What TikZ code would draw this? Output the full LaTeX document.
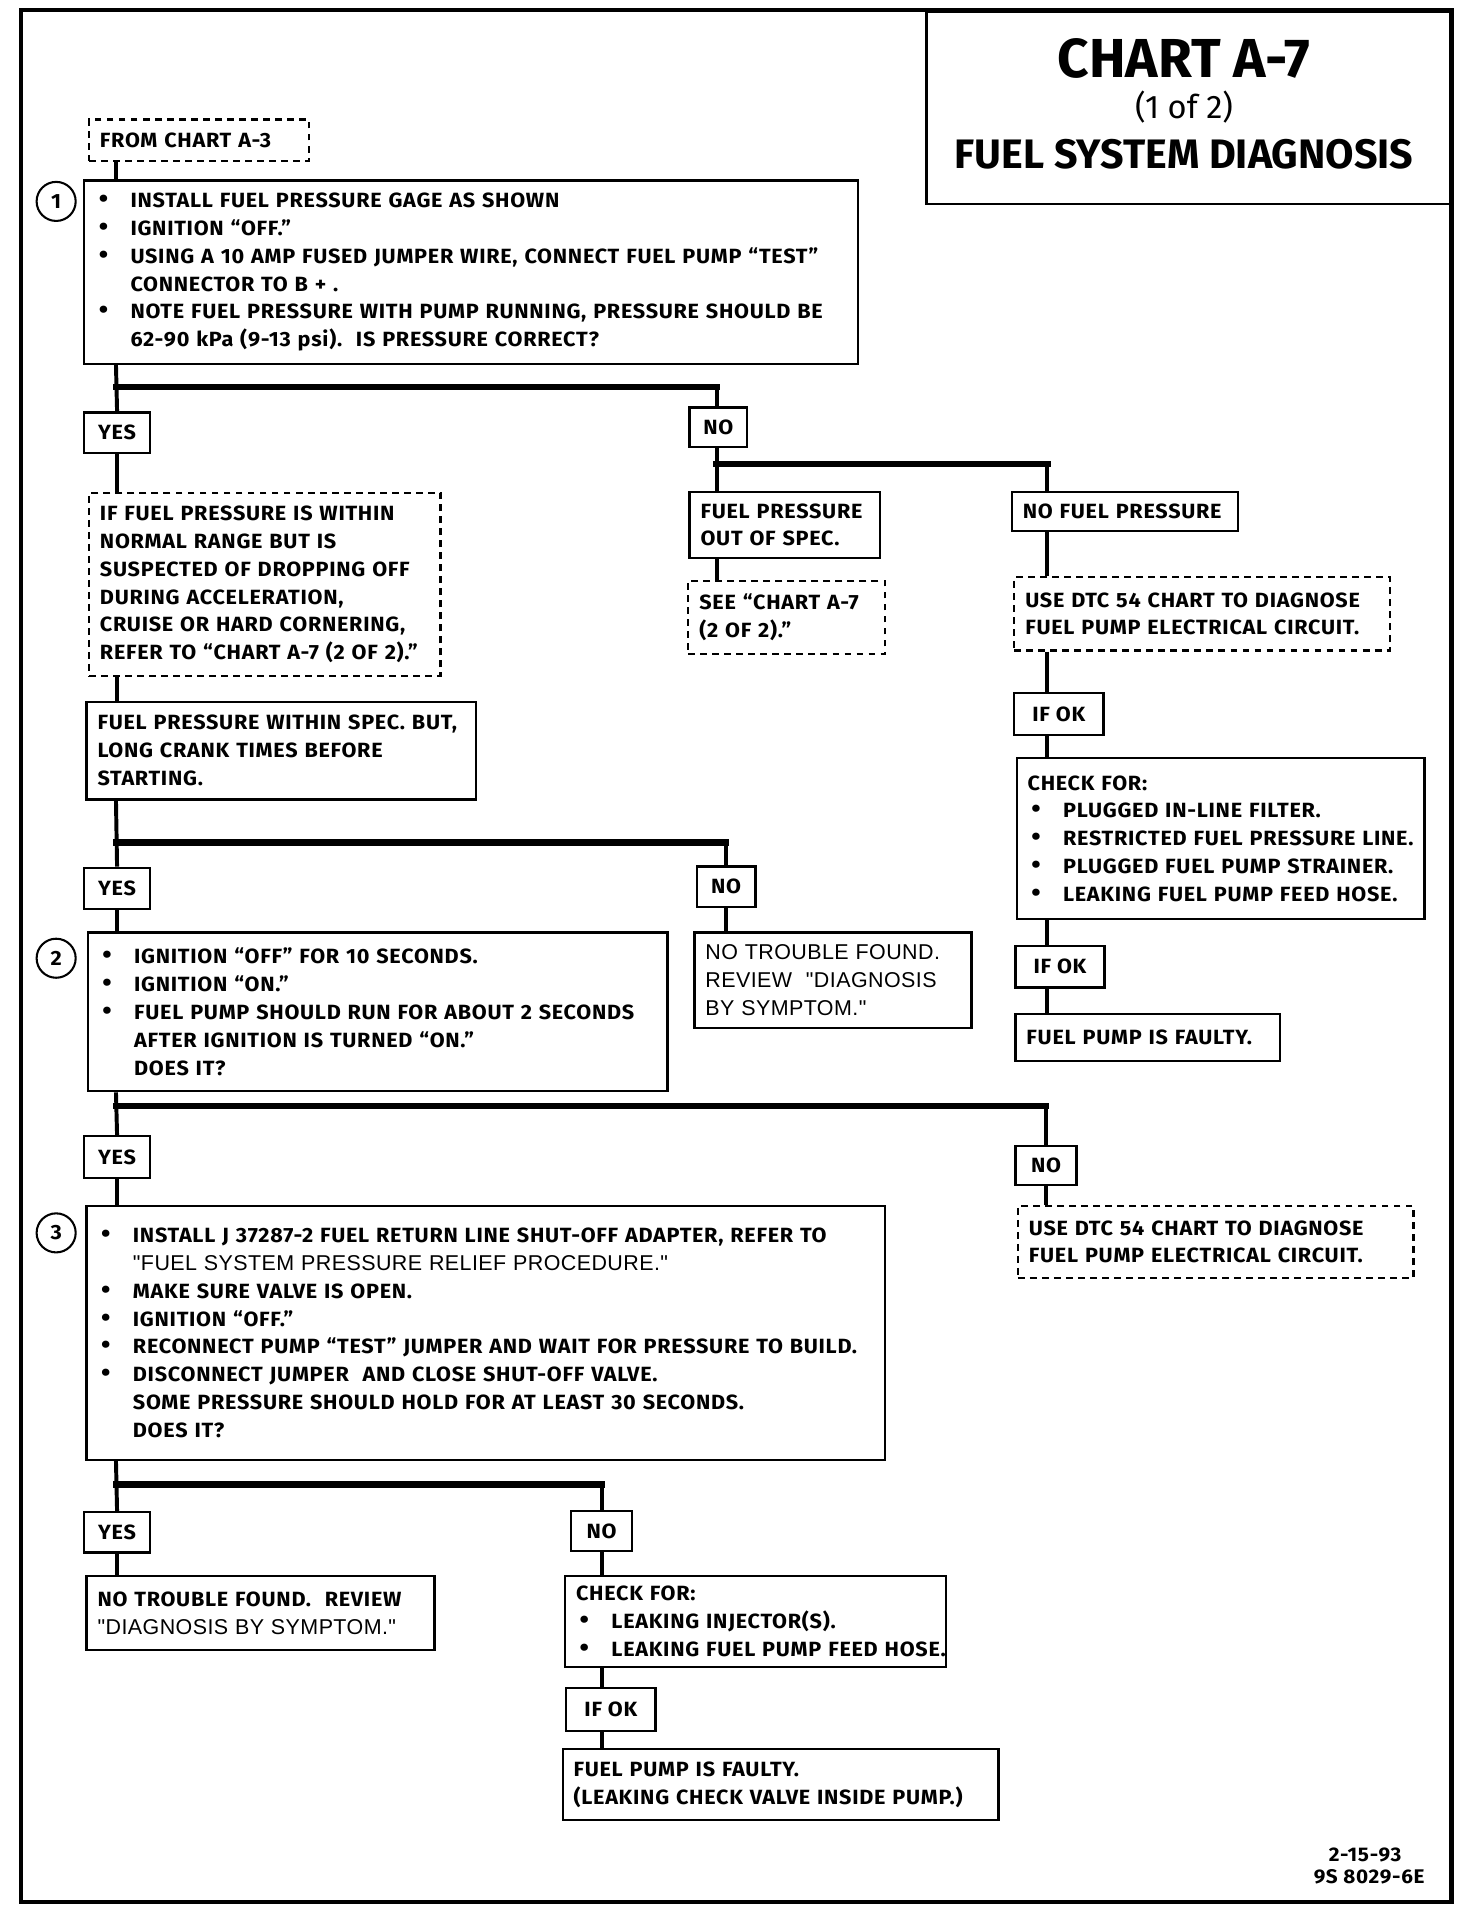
\documentclass[tikz,border=0pt]{standalone}
\usepackage{fontspec}
\setmainfont{Fira Sans}[FakeStretch=1.05,LetterSpace=3.5]
\newfontfamily\headfont{Fira Sans}
\newfontfamily\litefont{Liberation Sans}[LetterSpace=2]
\usetikzlibrary{calc}
\newdimen\pxu \pxu=0.25mm
\newcommand\body{\fontsize{12}{16.2}\selectfont\bfseries}
\newcommand\lite{\litefont\fontsize{12.5}{16.2}\selectfont\mdseries}
\newcommand\bul{\makebox[29\pxu][l]{\hspace{3\pxu}{\fontsize{15}{16}\selectfont\textbullet}}}
\newcommand\ind{\hspace*{29\pxu}}

\begin{document}
\begin{tikzpicture}[x=0.25mm,y=-0.25mm,
  box/.style={draw,line width=1.3pt,anchor=north west,align=left,inner xsep=9\pxu,inner ysep=0pt,font=\body},
  dbox/.style={box,dash pattern=on 4pt off 3pt},
  tag/.style={draw,line width=1.3pt,anchor=north west,align=center,inner sep=0pt,font=\body},
  num/.style={draw,circle,line width=1.2pt,minimum size=32\pxu,inner sep=0pt,font=\body},
  link/.style={line width=2.3pt},
  bar/.style={line width=3.8pt,line cap=rect}]
\useasboundingbox (0,0) rectangle (1206,1568);
\draw[line width=2.6pt] (17,8) rectangle (1189,1558);
\node[draw,line width=1.6pt,anchor=north west,minimum width=431\pxu,minimum height=158\pxu] (title) at (758,8) {};
\node[font=\headfont\fontsize{32}{33}\selectfont\bfseries] (chart) at (970,48) {CHART A-7};
\node[font=\headfont\fontsize{19}{20}\selectfont] (part) at (970,88) {(1 of 2)};
\node[font=\headfont\fontsize{24}{25}\selectfont\bfseries] (name) at (970,126) {FUEL SYSTEM DIAGNOSIS};
\node[anchor=north east,align=right,font=\fontsize{11.5}{13}\selectfont\bfseries] (stamp) at (1172,1509) {2-15-93\hspace*{19\pxu}\\9S 8029-6E};

\coordinate (j1) at (95,317); \coordinate (j2) at (95,690); \coordinate (j3) at (95,906); \coordinate (j4) at (95,1216);
\coordinate (k1) at (587,380); \coordinate (k2) at (858,380);

\node[dbox,minimum width=180\pxu,minimum height=34\pxu,text width=162\pxu] (from) at (72,97) {FROM CHART A-3};
\node[box,minimum width=634\pxu,minimum height=150\pxu,text width=616\pxu] (s1) at (68,147) {\bul INSTALL FUEL PRESSURE GAGE AS SHOWN\\\bul IGNITION ``OFF.''\\\bul USING A 10 AMP FUSED JUMPER WIRE, CONNECT FUEL PUMP ``TEST''\\\ind CONNECTOR TO B + .\\\bul NOTE FUEL PRESSURE WITH PUMP RUNNING, PRESSURE SHOULD BE\\\ind 62-90 kPa (9-13 psi).\ \ IS PRESSURE CORRECT?};
\node[num] (n1) at (46,165) {1};
\node[tag,minimum width=54\pxu,minimum height=33\pxu] (yes1) at (68,337) {YES};
\node[tag,minimum width=47\pxu,minimum height=32\pxu] (no1) at (564,333) {NO};
\node[dbox,minimum width=288\pxu,minimum height=150\pxu,text width=270\pxu] (note1) at (72,403) {IF FUEL PRESSURE IS WITHIN\\NORMAL RANGE BUT IS\\SUSPECTED OF DROPPING OFF\\DURING ACCELERATION,\\CRUISE OR HARD CORNERING,\\REFER TO ``CHART A-7 (2 OF 2).''};
\node[box,minimum width=319\pxu,minimum height=80\pxu,text width=301\pxu] (spec) at (70,574) {FUEL PRESSURE WITHIN SPEC. BUT,\\LONG CRANK TIMES BEFORE\\STARTING.};
\node[box,minimum width=156\pxu,minimum height=54\pxu,text width=138\pxu] (oos) at (564,402) {FUEL PRESSURE\\OUT OF SPEC.};
\node[dbox,minimum width=161\pxu,minimum height=60\pxu,text width=143\pxu] (see) at (563,475) {SEE ``CHART A-7\\(2 OF 2).''};
\node[box,minimum width=185\pxu,minimum height=32\pxu,text width=167\pxu] (nfp) at (828,402) {NO FUEL PRESSURE};
\node[dbox,minimum width=308\pxu,minimum height=60\pxu,text width=290\pxu] (dtc1) at (830,472) {USE DTC 54 CHART TO DIAGNOSE\\FUEL PUMP ELECTRICAL CIRCUIT.};
\node[tag,minimum width=73\pxu,minimum height=34\pxu] (ok1) at (830,567) {IF OK};
\node[box,minimum width=334\pxu,minimum height=132\pxu,text width=316\pxu] (chk1) at (832,620) {CHECK FOR:\\\bul PLUGGED IN-LINE FILTER.\\\bul RESTRICTED FUEL PRESSURE LINE.\\\bul PLUGGED FUEL PUMP STRAINER.\\\bul LEAKING FUEL PUMP FEED HOSE.};
\node[tag,minimum width=73\pxu,minimum height=34\pxu] (ok2) at (831,774) {IF OK};
\node[box,minimum width=217\pxu,minimum height=38\pxu,text width=199\pxu] (fault1) at (831,830) {FUEL PUMP IS FAULTY.};

\node[tag,minimum width=54\pxu,minimum height=34\pxu] (yes2) at (68,710) {YES};
\node[tag,minimum width=48\pxu,minimum height=33\pxu] (no2) at (570,709) {NO};
\node[box,minimum width=475\pxu,minimum height=130\pxu,text width=457\pxu] (s2) at (71,763) {\bul IGNITION ``OFF'' FOR 10 SECONDS.\\\bul IGNITION ``ON.''\\\bul FUEL PUMP SHOULD RUN FOR ABOUT 2 SECONDS\\\ind AFTER IGNITION IS TURNED ``ON.''\\\ind DOES IT?};
\node[num] (n2) at (46,785) {2};
\node[box,minimum width=227\pxu,minimum height=78\pxu,text width=209\pxu] (ntf1) at (568,763) {\lite NO TROUBLE FOUND.\\\lite REVIEW\ \ "DIAGNOSIS\\\lite BY SYMPTOM."};

\node[tag,minimum width=54\pxu,minimum height=34\pxu] (yes3) at (68,930) {YES};
\node[tag,minimum width=50\pxu,minimum height=32\pxu] (no3) at (831,938) {NO};
\node[box,minimum width=654\pxu,minimum height=208\pxu,text width=636\pxu] (s3) at (70,987) {\bul INSTALL J 37287-2 FUEL RETURN LINE SHUT-OFF ADAPTER, REFER TO\\\ind{\lite "FUEL SYSTEM PRESSURE RELIEF PROCEDURE."}\\\bul MAKE SURE VALVE IS OPEN.\\\bul IGNITION ``OFF.''\\\bul RECONNECT PUMP ``TEST'' JUMPER AND WAIT FOR PRESSURE TO BUILD.\\\bul DISCONNECT JUMPER\ \ AND CLOSE SHUT-OFF VALVE.\\\ind SOME PRESSURE SHOULD HOLD FOR AT LEAST 30 SECONDS.\\\ind DOES IT?};
\node[num] (n3) at (46,1010) {3};
\node[dbox,minimum width=324\pxu,minimum height=59\pxu,text width=306\pxu] (dtc2) at (833,987) {USE DTC 54 CHART TO DIAGNOSE\\FUEL PUMP ELECTRICAL CIRCUIT.};

\node[tag,minimum width=54\pxu,minimum height=33\pxu] (yes4) at (68,1238) {YES};
\node[tag,minimum width=50\pxu,minimum height=33\pxu] (no4) at (467,1237) {NO};
\node[box,minimum width=285\pxu,minimum height=61\pxu,text width=267\pxu] (ntf2) at (70,1290) {NO TROUBLE FOUND.\ \ REVIEW\\{\lite "DIAGNOSIS BY SYMPTOM."}};
\node[box,minimum width=312\pxu,minimum height=75\pxu,text width=294\pxu] (chk2) at (462,1290) {CHECK FOR:\\\bul LEAKING INJECTOR(S).\\\bul\rlap{LEAKING FUEL PUMP FEED HOSE.}};
\node[tag,minimum width=73\pxu,minimum height=35\pxu] (ok3) at (463,1382) {IF OK};
\node[box,minimum width=357\pxu,minimum height=58\pxu,text width=339\pxu] (fault2) at (460,1432) {FUEL PUMP IS FAULTY.\\(LEAKING CHECK VALVE INSIDE PUMP.)};

\draw[link] (from.south -| j1) -- (s1.north -| j1);
\draw[link] (s1.south -| j1) -- (yes1.north);
\draw[bar] (j1) -- (k1 |- j1);
\draw[link] (k1 |- j1) -- (k1 |- no1.north);
\draw[link] (yes1.south) -- (note1.north -| yes1);
\draw[link] (note1.south -| yes1) -- (spec.north -| yes1);
\draw[link] (k1 |- no1.south) -- (k1);
\draw[bar] (k1) -- (k2);
\draw[link] (k1) -- (k1 |- oos.north);
\draw[link] (oos.south -| k1) -- (see.north -| k1);
\draw[link] (k2) -- (k2 |- nfp.north);
\draw[link] (nfp.south -| k2) -- (dtc1.north -| k2);
\draw[link] (dtc1.south -| k2) -- (ok1.north -| k2);
\draw[link] (ok1.south -| k2) -- (chk1.north -| k2);
\draw[link] (chk1.south -| k2) -- (ok2.north -| k2);
\draw[link] (ok2.south -| k2) -- (fault1.north -| k2);
\draw[link] (spec.south -| j2) -- (yes2.north);
\draw[bar] (j2) -- (j2 -| no2);
\draw[link] (j2 -| no2) -- (no2.north);
\draw[link] (yes2.south) -- (s2.north -| yes2);
\draw[link] (no2.south) -- (ntf1.north -| no2);
\draw[link] (s2.south -| j3) -- (yes3.north);
\draw[bar] (j3) -- (j3 -| no3);
\draw[link] (j3 -| no3) -- (no3.north);
\draw[link] (yes3.south) -- (s3.north -| yes3);
\draw[link] (no3.south) -- (dtc2.north -| no3);
\draw[link] (s3.south -| j4) -- (yes4.north);
\draw[bar] (j4) -- (j4 -| no4);
\draw[link] (j4 -| no4) -- (no4.north);
\draw[link] (yes4.south) -- (ntf2.north -| yes4);
\draw[link] (no4.south) -- (chk2.north -| no4);
\draw[link] (chk2.south -| no4) -- (ok3.north -| no4);
\draw[link] (ok3.south -| no4) -- (fault2.north -| no4);
\end{tikzpicture}
\end{document}
